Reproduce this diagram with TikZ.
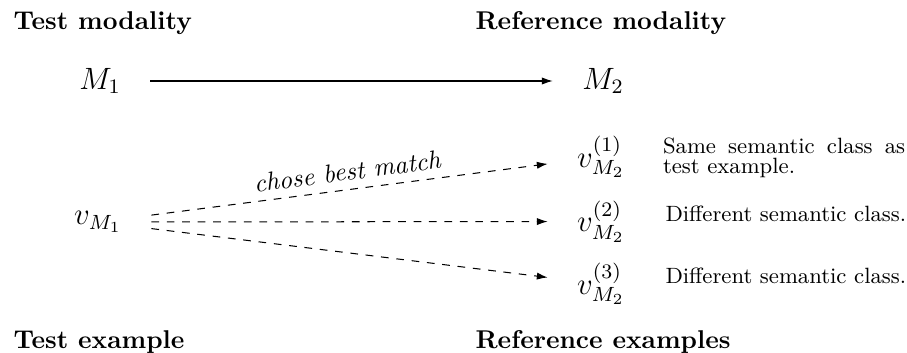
\documentclass[tikz,border=0pt]{standalone}
\usetikzlibrary{arrows.meta}
\begin{document}
\begin{tikzpicture}[x=0.389pt,y=-0.389pt,
  title/.style={font=\bfseries, inner sep=0pt, anchor=base west},
  mathnode/.style={font=\large, inner sep=0pt, outer xsep=11.5pt, outer ysep=0pt},
  desc/.style={font=\fontsize{8.6}{7.6}\selectfont, inner sep=0pt},
  arr/.style={-{Latex[length=4.2pt,width=2.8pt]}},
  dasharr/.style={arr, dashed}]
\useasboundingbox (0,0) rectangle (907,352);
\node[title] (tm) at (13,29) {Test modality};
\node[title] (rm) at (475,29) {Reference modality};
\node[title] (te) at (13,348) {Test example};
\node[title] (re) at (475,348) {Reference examples};
\node[mathnode] (M1) at (100,81) {$M_1$};
\node[mathnode] (M2) at (603,81) {$M_2$};
\node[mathnode] (v) at (98,222) {$v_{M_1}$};
\node[mathnode] (v1) at (601,157) {$v^{(1)}_{M_2}$};
\node[mathnode] (v2) at (601,221.5) {$v^{(2)}_{M_2}$};
\node[mathnode] (v3) at (601,284) {$v^{(3)}_{M_2}$};
\node[desc, anchor=west, text width=94.2pt, align=justify] (d1) at (662.5,157.7) {Same semantic class as test example.};
\node[desc, anchor=base west] (d2) at (665,221.7) {Different semantic class.};
\node[desc, anchor=base west] (d3) at (665,283.5) {Different semantic class.};
\draw[arr] (M1) -- (M2);
\draw[dasharr] (v) -- node[above, sloped, font=\itshape] {chose best match} (v1);
\draw[dasharr] (v) -- (v2);
\draw[dasharr] (v) -- (v3);
\end{tikzpicture}
\end{document}
